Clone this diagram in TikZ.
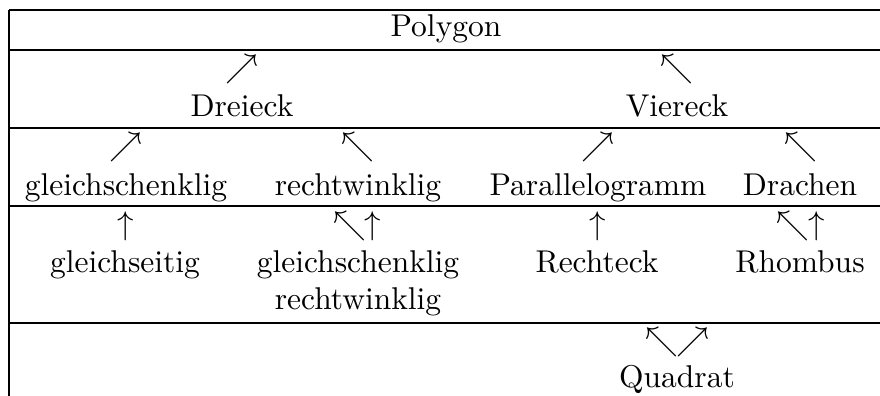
\documentclass[tikz,border=0pt]{standalone}
\usepackage{amssymb}
\begin{document}
\begin{tikzpicture}[x=0.33333pt,y=-0.33333pt,
  font=\fontsize{10.5}{12.6}\selectfont,
  rule/.style={line width=0.6pt},
  lbl/.style={anchor=base,inner sep=0pt},
  glyph/.style={anchor=center,inner sep=0pt}]
\useasboundingbox (0,0) rectangle (880,396);
% table rules
\coordinate (tl) at (9,10);
\coordinate (bl) at (9,400);
\draw[rule] (tl) -- (bl);
\foreach \y in {10,50,128,206,323} \draw[rule] (9,\y) -- (885,\y);
% texts
\node[lbl] (poly) at (446,37) {Polygon};
\node[lbl] (drei) at (242,117) {Dreieck};
\node[lbl] (vier) at (677,117) {Viereck};
\node[lbl] (gs) at (126,196) {gleichschenklig};
\node[lbl] (rw) at (358,196) {rechtwinklig};
\node[lbl] (pg) at (598,196) {Parallelogramm};
\node[lbl] (dr) at (800,196) {Drachen};
\node[lbl] (gse) at (125,273) {gleichseitig};
\node[lbl] (gsr) at (358,273) {gleichschenklig};
\node[lbl] (gsr2) at (358,310) {rechtwinklig};
\node[lbl] (rt) at (597,273) {Rechteck};
\node[lbl] (rh) at (800,273) {Rhombus};
\node[lbl] (qu) at (677,388) {Quadrat};
% arrow glyphs
\node[glyph] (a1) at (242,69) {$\nearrow$};
\node[glyph] (a2) at (677,69) {$\nwarrow$};
\node[glyph] (a3) at (126,147) {$\nearrow$};
\node[glyph] (a4) at (358,147) {$\nwarrow$};
\node[glyph] (a5) at (598,147) {$\nearrow$};
\node[glyph] (a6) at (801,147) {$\nwarrow$};
\node[glyph] (a7) at (126,226) {$\uparrow$};
\node[glyph] (a8) at (350,226) {$\nwarrow$};
\node[glyph] (a9) at (373,226) {$\uparrow$};
\node[glyph] (a10) at (598,226) {$\uparrow$};
\node[glyph] (a11) at (793,226) {$\nwarrow$};
\node[glyph] (a12) at (817,226) {$\uparrow$};
\node[glyph] (a13) at (662,342) {$\nwarrow$};
\node[glyph] (a14) at (693,342) {$\nearrow$};
\end{tikzpicture}
\end{document}
